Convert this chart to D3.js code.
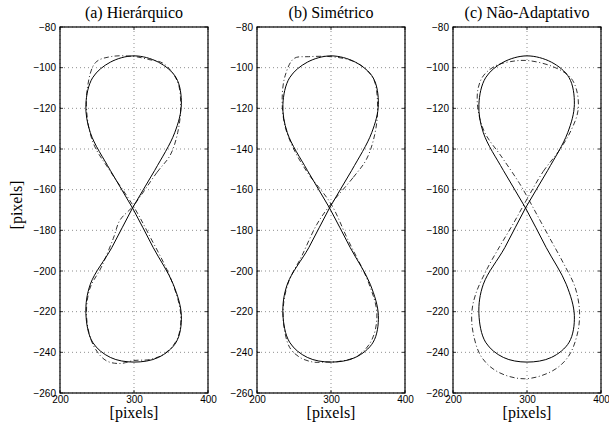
<!DOCTYPE html>
<html>
<head>
<meta charset="utf-8">
<script src="https://cdn.jsdelivr.net/npm/d3@7"></script>
<style>
  body { margin: 0; background: #fff; }
  svg { display: block; }
</style>
</head>
<body>
<svg id="chart"></svg>
<script>
const width = 609;
const height = 425;

// panel titles
const titles = ["(a) Hierárquico", "(b) Simétrico", "(c) Não-Adaptativo"];

// tick values
const xTicks = [200, 300, 400];
const yTicks = [-260, -240, -220, -200, -180, -160, -140, -120, -100, -80];

// reference path (solid), same in all panels
const reference = [
    [298, -169], [328, -150.5], [355, -132], [364, -118], [357, -105], [333, -97.3],
    [300, -94.2], [268, -97.3], [244, -105], [235, -118], [241, -132], [268, -150.5],
    [298, -169], [326, -188.5], [353, -206.5], [364, -222], [357, -235], [333, -242.5],
    [300, -244.8], [268, -242.5], [244, -235], [235, -221], [241, -206.5], [270, -188.5]
];

// measured paths (dash-dot)
const hierarquico = [
    [299, -168], [331, -151.5], [349, -143], [359, -132], [363, -120], [359, -107],
    [340, -98], [320, -96], [300, -94.5], [270, -94.5], [248, -97.5], [237, -110],
    [237, -125], [246, -138], [268, -151],
    [299, -168], [320, -182], [350, -204], [363, -221], [359, -233], [342, -240.5],
    [322, -243.5], [300, -244], [281, -245.5], [262, -244], [245, -236.5], [236, -223],
    [240, -209], [256, -198], [272, -184], [281, -175]
];

const simetrico = [
    [300, -167], [330, -154], [348, -145], [359, -133], [363, -120], [358, -106],
    [343, -99.5], [326, -96.3], [300, -94.6], [270, -94.6], [250, -95.5], [238, -104],
    [234, -116], [238, -129], [251, -141], [269, -152],
    [300, -167], [322, -184], [351, -206], [362, -221], [355, -234], [335, -242],
    [310, -244.5], [290, -244.8], [276, -244.8], [258, -242.5], [244, -237.5], [236, -226],
    [236, -216], [243, -205], [260, -193], [281, -177]
];

const naoAdaptativo = [
    [301, -164], [322, -151], [344, -140.5], [360, -130.5], [369, -121], [367, -111],
    [358, -104.5], [335, -99.5], [301, -96.5], [278, -97], [258, -99], [241, -104],
    [233.5, -111], [234, -121], [243, -132], [266, -144], [290, -157],
    [301, -164], [313, -172], [331, -184], [349, -196], [365, -208],
    [371, -220], [368, -231], [356, -242], [335, -249], [297, -253], [260, -249.5],
    [238, -242], [227, -230], [225.5, -220], [231, -211], [246, -199], [263, -188], [281, -177]
];

const measured = [hierarquico, simetrico, naoAdaptativo];

const panelLeft = [60, 257, 453];
const panelTop = 27;
const pw = 148;
const ph = 366;

const svg = d3.select("#chart")
    .attr("width", width)
    .attr("height", height);

const x = d3.scaleLinear().domain([200, 400]).range([0, pw]);
const y = d3.scaleLinear().domain([-260, -80]).range([ph, 0]);

const line = d3.line()
    .x(d => x(d[0]))
    .y(d => y(d[1]))
    .curve(d3.curveCatmullRomClosed.alpha(0.5));

titles.forEach((title, i) => {
    const g = svg.append("g").attr("transform", `translate(${panelLeft[i]},${panelTop})`);

    // grid
    g.selectAll(".gy").data(yTicks).enter().append("line")
        .attr("x1", 0).attr("x2", pw)
        .attr("y1", d => y(d)).attr("y2", d => y(d))
        .attr("stroke", "#444").attr("stroke-width", 0.6)
        .attr("stroke-dasharray", "1,3");
    g.selectAll(".gx").data(xTicks).enter().append("line")
        .attr("x1", d => x(d)).attr("x2", d => x(d))
        .attr("y1", 0).attr("y2", ph)
        .attr("stroke", "#444").attr("stroke-width", 0.6)
        .attr("stroke-dasharray", "1,3");

    // curves
    g.append("path")
        .attr("d", line(reference))
        .attr("fill", "none").attr("stroke", "#000").attr("stroke-width", 1);
    g.append("path")
        .attr("d", line(measured[i]))
        .attr("fill", "none").attr("stroke", "#000").attr("stroke-width", 0.8)
        .attr("stroke-dasharray", "5,2.5,1,2.5");

    // axes (labels) and inward ticks
    const ya = g.append("g")
        .call(d3.axisLeft(y).tickValues(yTicks).tickSize(0).tickPadding(4));
    ya.select(".domain").remove();
    ya.selectAll("text").attr("font-family", "Liberation Sans, Arial, sans-serif").attr("font-size", 10);

    const xa = g.append("g").attr("transform", `translate(0,${ph})`)
        .call(d3.axisBottom(x).tickValues(xTicks).tickSize(0).tickPadding(3));
    xa.select(".domain").remove();
    xa.selectAll("text").attr("font-family", "Liberation Sans, Arial, sans-serif").attr("font-size", 10);

    g.selectAll(".tl").data(yTicks).enter().append("path")
        .attr("d", d => `M0,${y(d)}h3M${pw},${y(d)}h-3`)
        .attr("stroke", "#000").attr("stroke-width", 0.8);
    g.selectAll(".tb").data(xTicks).enter().append("path")
        .attr("d", d => `M${x(d)},${ph}v-3M${x(d)},0v3`)
        .attr("stroke", "#000").attr("stroke-width", 0.8);

    // box
    g.append("rect")
        .attr("width", pw).attr("height", ph)
        .attr("fill", "none").attr("stroke", "#000").attr("stroke-width", 1.2);

    // title
    g.append("text")
        .attr("x", pw / 2).attr("y", -9)
        .attr("text-anchor", "middle")
        .attr("font-family", "Liberation Serif, Times New Roman, serif")
        .attr("font-size", 16)
        .text(title);

    // x label
    g.append("text")
        .attr("x", pw / 2).attr("y", ph + 25)
        .attr("text-anchor", "middle")
        .attr("font-family", "Liberation Serif, Times New Roman, serif")
        .attr("font-size", 16)
        .text("[pixels]");
});

// y label
svg.append("text")
    .attr("transform", "translate(22,205) rotate(-90)")
    .attr("text-anchor", "middle")
    .attr("font-family", "Liberation Serif, Times New Roman, serif")
    .attr("font-size", 16)
    .text("[pixels]");
</script>
</body>
</html>
